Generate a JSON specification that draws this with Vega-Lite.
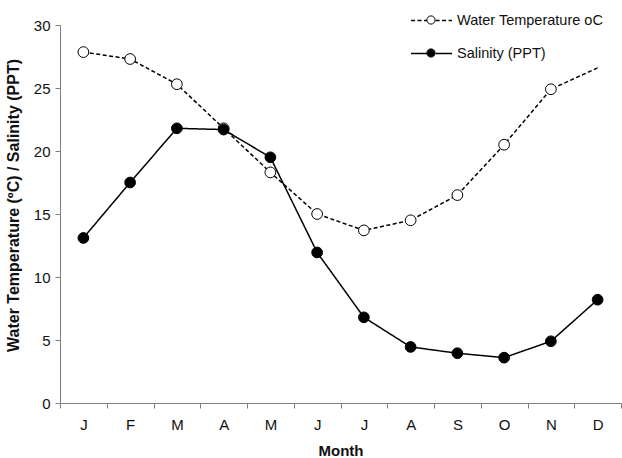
{
  "$schema": "https://vega.github.io/schema/vega-lite/v6.json",
  "width": 561,
  "height": 378,
  "autosize": "none",
  "padding": {"left": 60, "top": 25, "right": 1, "bottom": 55},
  "background": "white",
  "config": {
    "view": {"stroke": null},
    "font": "Liberation Sans",
    "axis": {"domainColor": "#808080", "tickColor": "#808080", "labelColor": "#111", "titleColor": "#111", "grid": false, "labelFont": "Liberation Sans", "titleFont": "Liberation Sans"}
  },
  "data": {"values": [
    {"month": "Jan", "series": "Water Temperature oC", "value": 27.85},
    {"month": "Feb", "series": "Water Temperature oC", "value": 27.3},
    {"month": "Mar", "series": "Water Temperature oC", "value": 25.3},
    {"month": "Apr", "series": "Water Temperature oC", "value": 21.8},
    {"month": "May", "series": "Water Temperature oC", "value": 18.3},
    {"month": "Jun", "series": "Water Temperature oC", "value": 15.0},
    {"month": "Jul", "series": "Water Temperature oC", "value": 13.7},
    {"month": "Aug", "series": "Water Temperature oC", "value": 14.5},
    {"month": "Sep", "series": "Water Temperature oC", "value": 16.5},
    {"month": "Oct", "series": "Water Temperature oC", "value": 20.5},
    {"month": "Nov", "series": "Water Temperature oC", "value": 24.9},
    {"month": "Dec", "series": "Water Temperature oC", "value": 26.6},
    {"month": "Jan", "series": "Salinity (PPT)", "value": 13.1},
    {"month": "Feb", "series": "Salinity (PPT)", "value": 17.5},
    {"month": "Mar", "series": "Salinity (PPT)", "value": 21.8},
    {"month": "Apr", "series": "Salinity (PPT)", "value": 21.7},
    {"month": "May", "series": "Salinity (PPT)", "value": 19.5},
    {"month": "Jun", "series": "Salinity (PPT)", "value": 11.95},
    {"month": "Jul", "series": "Salinity (PPT)", "value": 6.8},
    {"month": "Aug", "series": "Salinity (PPT)", "value": 4.45},
    {"month": "Sep", "series": "Salinity (PPT)", "value": 3.95},
    {"month": "Oct", "series": "Salinity (PPT)", "value": 3.6},
    {"month": "Nov", "series": "Salinity (PPT)", "value": 4.9},
    {"month": "Dec", "series": "Salinity (PPT)", "value": 8.2}
  ]},
  "encoding": {
    "x": {
      "field": "month", "type": "ordinal",
      "sort": ["Jan","Feb","Mar","Apr","May","Jun","Jul","Aug","Sep","Oct","Nov","Dec"],
      "scale": {"type": "band", "paddingInner": 0, "paddingOuter": 0},
      "axis": {"title": "Month", "titleFontSize": 15, "titleFontWeight": "bold", "labelFontSize": 15, "labelAngle": 0, "tickBand": "extent", "tickSize": 5, "labelPadding": 9, "titlePadding": 11, "labelExpr": "slice(datum.label, 0, 1)"}
    },
    "y": {
      "field": "value", "type": "quantitative",
      "scale": {"domain": [0, 30], "nice": false},
      "axis": {"title": "Water Temperature (ºC)  / Salinity (PPT)", "titleFontSize": 16, "titleFontWeight": "bold", "labelFontSize": 15, "values": [0,5,10,15,20,25,30], "tickSize": 5, "labelPadding": 5, "titlePadding": 12, "titleY": 180}
    }
  },
  "layer": [
    {
      "mark": {"type": "line", "color": "black", "strokeWidth": 1.5},
      "encoding": {
        "strokeDash": {
          "field": "series", "type": "nominal",
          "scale": {"domain": ["Water Temperature oC", "Salinity (PPT)"], "range": [[4, 2.5], [1, 0]]},
          "legend": {
            "orient": "none", "legendX": 350, "legendY": -26, "title": null, "padding": 0,
            "symbolType": "M-1,0L-0.2,0M0.2,0L1,0", "symbolSize": 1681, "symbolStrokeColor": "black", "symbolStrokeWidth": 1.5, "symbolFillColor": "transparent",
            "labelFontSize": 14.5, "labelColor": "#111", "labelOffset": 4, "rowPadding": 5, "labelFont": "Liberation Sans"
          }
        }
      }
    },
    {
      "transform": [
        {"filter": "!(datum.series === 'Water Temperature oC' && datum.month === 'Dec')"},
        {"calculate": "datum.series", "as": "marker"}
      ],
      "mark": {"type": "point", "shape": "circle", "size": 115, "stroke": "black", "strokeWidth": 1, "opacity": 1, "filled": false},
      "encoding": {
        "fill": {
          "field": "marker", "type": "nominal", "sort": "descending",
          "scale": {"range": ["white", "black"]},
          "legend": {
            "orient": "none", "legendX": 350, "legendY": -26, "title": null, "padding": 0,
            "symbolType": "M-0.2,0A0.2,0.2,0,1,1,0.2,0A0.2,0.2,0,1,1,-0.2,0Z", "symbolSize": 1681, "symbolStrokeColor": "black", "symbolStrokeWidth": 1,
            "labelFontSize": 14.5, "labelOpacity": 0, "labelOffset": 4, "rowPadding": 5, "labelFont": "Liberation Sans"
          }
        }
      }
    }
  ]
}
